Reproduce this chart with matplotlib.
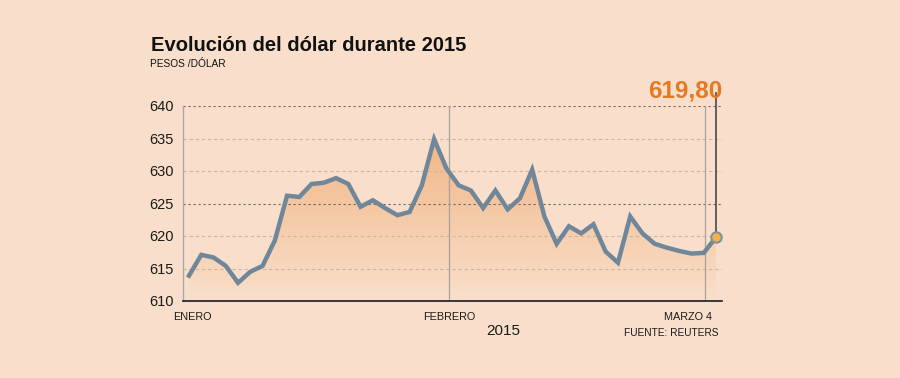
import numpy as np
import matplotlib
matplotlib.use("Agg")
import matplotlib.pyplot as plt
from matplotlib.colors import LinearSegmentedColormap
from matplotlib.patches import Polygon

# Datos: dólar observado (pesos por dólar), días hábiles ene-mar 2015
valores = [613.9, 617.1, 616.7, 615.4, 612.8, 614.5, 615.4, 619.3, 626.2, 626.0,
           628.0, 628.2, 628.9, 628.0, 624.5, 625.5, 624.3, 623.2, 623.7, 627.8,
           634.9, 630.4, 627.8, 627.0, 624.3, 627.0, 624.1, 625.8, 630.2, 623.0,
           618.8, 621.5, 620.4, 621.8, 617.6, 615.9, 623.0, 620.4, 618.8, 618.2,
           617.7, 617.3, 617.4, 619.8]
meses = ["ENERO", "FEBRERO", "MARZO 4"]
meses_pos = [0.0, 21.2, 42.1]
y_ticks = [610, 615, 620, 625, 630, 635, 640]
ultimo_txt = "619,80"

fondo = "#F9DFCB"
linea = "#6F8799"
naranja = "#E37A22"

fig = plt.figure(figsize=(9, 3.78), dpi=100, facecolor=fondo)
ax = fig.add_axes([183 / 900, 1 - 301 / 378, (722 - 183) / 900, (301 - 106) / 378])
ax.set_facecolor(fondo)

x = np.arange(len(valores))
ax.set_xlim(-0.49, len(valores) - 1 + 0.49)
ax.set_ylim(610, 640)

# relleno degradado bajo la curva
cmap = LinearSegmentedColormap.from_list("deg", [fondo, "#F0B481"])
grad = np.linspace(0, 1, 256).reshape(-1, 1)
img = ax.imshow(grad, extent=[x[0], x[-1], 610, 637], origin="lower",
                cmap=cmap, aspect="auto", zorder=1)
verts = [(x[0], 610)] + list(zip(x, valores)) + [(x[-1], 610)]
poly = Polygon(verts, closed=True, facecolor="none", edgecolor="none")
ax.add_patch(poly)
img.set_clip_path(poly)

# rejilla
for t in y_ticks[1:]:
    if t in (640, 625):
        ax.axhline(t, color="#6E6460", lw=0.8, ls=(0, (2, 2.5)), zorder=2)
    else:
        ax.axhline(t, color="#CDB5A3", lw=0.8, ls=(0, (3, 2.5)), zorder=2)

for p in meses_pos[1:]:
    ax.axvline(p, color="#A9A09A", lw=0.9, zorder=2)

ax.plot(x, valores, color=linea, lw=3.2, solid_joinstyle="miter", zorder=4)

# marcador del último valor y su línea
ax.plot([x[-1], x[-1]], [valores[-1], 642.0], color="#555555", lw=1.3,
        clip_on=False, zorder=3)
ax.plot(x[-1], valores[-1], "o", ms=7.5, mfc="#F3B243", mec="#7F93A3", mew=1.5,
        zorder=5, clip_on=False)
ax.text(1.0, 1.075, ultimo_txt, transform=ax.transAxes, ha="right", va="center",
        fontsize=17.5, fontweight="bold", color=naranja, family="Liberation Sans")

for s in ["top", "right"]:
    ax.spines[s].set_visible(False)
ax.spines["left"].set_color("#A8A8A8")
ax.spines["left"].set_linewidth(1.0)
ax.spines["bottom"].set_color("#1A1A1A")
ax.spines["bottom"].set_linewidth(1.2)

ax.set_yticks(y_ticks)
ax.set_yticklabels([str(t) for t in y_ticks], family="Liberation Sans",
                   fontsize=10.5, color="#1A1A1A")
ax.tick_params(axis="y", length=0, pad=7)
ax.set_xticks([])

ax.text(meses_pos[0] - 1.3, 608.3, meses[0], ha="left", va="top", fontsize=7.8,
        family="Liberation Sans", color="#1A1A1A")
ax.text(meses_pos[1], 608.3, meses[1], ha="center", va="top", fontsize=7.8,
        family="Liberation Sans", color="#1A1A1A")
ax.text(meses_pos[2] - 1.4, 608.3, meses[2], ha="center", va="top", fontsize=7.8,
        family="Liberation Sans", color="#1A1A1A")

fig.text(503 / 900, 1 - 331 / 378, "2015", ha="center", va="center",
         fontsize=11, family="Liberation Sans", color="#1A1A1A")
fig.text(718 / 900, 1 - 333 / 378, "FUENTE: REUTERS", ha="right", va="center",
         fontsize=7.3, family="Liberation Sans", color="#1A1A1A")

fig.text(151 / 900, 1 - 51 / 378, "Evolución del dólar durante 2015", ha="left",
         va="baseline", fontsize=14.5, fontweight="bold", family="Liberation Sans",
         color="#111111")
fig.text(150 / 900, 1 - 67 / 378, "PESOS /DÓLAR", ha="left", va="baseline",
         fontsize=7.3, family="Liberation Sans", color="#111111")

fig.savefig("out.png", dpi=100, facecolor=fondo)
